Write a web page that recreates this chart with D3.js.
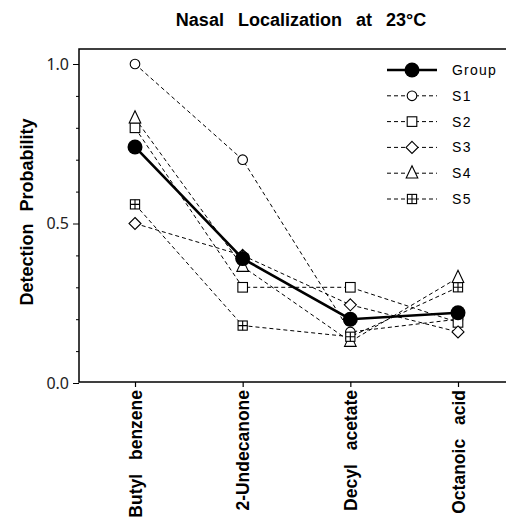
<!DOCTYPE html>
<html>
<head>
<meta charset="utf-8">
<script src="https://cdn.jsdelivr.net/npm/d3@7"></script>
<style>
  body { margin: 0; background: #fff; }
  svg { display: block; }
</style>
</head>
<body>
<div id="chart"></div>
<script>
// odorants along the x axis
const odorants = ["Butyl benzene", "2-Undecanone", "Decyl acetate", "Octanoic acid"]

// detection probability per subject, same order as odorants
const group = [0.74, 0.39, 0.20, 0.22]
const s1 = [1.0, 0.70, 0.16, 0.20]
const s2 = [0.80, 0.30, 0.30, 0.19]
const s3 = [0.50, 0.40, 0.245, 0.16]
const s4 = [0.83, 0.365, 0.13, 0.33]
const s5 = [0.56, 0.18, 0.145, 0.30]

const yTicks = [0.0, 0.5, 1.0]

const series = [
    {name: "S1", values: s1, symbol: "circle"},
    {name: "S2", values: s2, symbol: "square"},
    {name: "S3", values: s3, symbol: "diamond"},
    {name: "S4", values: s4, symbol: "triangle"},
    {name: "S5", values: s5, symbol: "crossbox"},
]

const width = 506, height = 527
const plot = {left: 79, right: 520, top: 49, bottom: 382}
const font = "'Liberation Sans', Arial, sans-serif"

const svg = d3.select("#chart").append("svg")
    .attr("width", width)
    .attr("height", height)

const x = d3.scalePoint()
    .domain(odorants)
    .range([135, 458])

const y = d3.scaleLinear()
    .domain([0, 1])
    .range([383, 64])

// frame
svg.append("rect")
    .attr("x", plot.left).attr("y", plot.top)
    .attr("width", plot.right - plot.left).attr("height", plot.bottom - plot.top)
    .attr("fill", "none").attr("stroke", "#000").attr("stroke-width", 1.5)

// y axis: major + minor ticks
const yAxis = svg.append("g")
    .attr("transform", `translate(${plot.left},0)`)
    .call(d3.axisLeft(y).tickValues(yTicks).tickFormat(d3.format(".1f")).tickSize(6).tickPadding(4))
yAxis.select(".domain").remove()
yAxis.selectAll("text")
    .attr("font-family", "'Noto Sans', sans-serif")
    .attr("font-size", 16)
    .attr("fill", "#222")
yAxis.selectAll("line").attr("stroke", "#000")

svg.append("g")
    .attr("transform", `translate(${plot.left},0)`)
    .call(d3.axisLeft(y).tickValues(d3.range(1, 10).filter(d => d !== 5).map(d => d / 10)).tickSize(3).tickFormat(""))
    .call(g => g.select(".domain").remove())

// x axis
const xAxis = svg.append("g")
    .attr("transform", `translate(0,${plot.bottom})`)
    .call(d3.axisBottom(x).tickSize(5).tickSizeOuter(0))
xAxis.select(".domain").remove()
xAxis.selectAll("line").attr("stroke", "#000").attr("stroke-width", 1.2)
xAxis.selectAll("text")
    .attr("transform", "rotate(-90)")
    .attr("text-anchor", "end")
    .attr("x", -8)
    .attr("y", 0)
    .attr("dy", "0.36em")
    .attr("font-family", font)
    .attr("font-weight", "bold")
    .attr("font-size", 17.5)
    .attr("word-spacing", 9)
    .attr("fill", "#000")

// titles
svg.append("text")
    .attr("x", 301).attr("y", 26)
    .attr("text-anchor", "middle")
    .attr("font-family", font)
    .attr("font-weight", "bold")
    .attr("font-size", 18)
    .attr("word-spacing", 9)
    .text("Nasal Localization at 23°C")

svg.append("text")
    .attr("transform", "translate(33,212) rotate(-90)")
    .attr("text-anchor", "middle")
    .attr("font-family", font)
    .attr("font-weight", "bold")
    .attr("font-size", 18)
    .attr("word-spacing", 7)
    .text("Detection Probability")

// marker drawing
const drawMarker = (g, symbol) => {
    const common = s => s.attr("fill", "#fff").attr("stroke", "#000").attr("stroke-width", 1.1)
    if (symbol === "circle") {
        g.append("circle").attr("r", 4.8).call(common)
    } else if (symbol === "square") {
        g.append("rect").attr("x", -4.8).attr("y", -4.8).attr("width", 9.6).attr("height", 9.6).call(common)
    } else if (symbol === "diamond") {
        g.append("path").attr("d", "M0,-6L6,0L0,6L-6,0Z").call(common)
    } else if (symbol === "triangle") {
        g.append("path").attr("d", "M0,-7.5L5.8,4.8L-5.8,4.8Z").call(common)
    } else if (symbol === "crossbox") {
        g.append("rect").attr("x", -4.6).attr("y", -4.6).attr("width", 9.2).attr("height", 9.2).call(common)
        g.append("path").attr("d", "M0,-4.6V4.6M-4.6,0H4.6").attr("stroke", "#000").attr("stroke-width", 1.1)
    }
}

const line = d3.line()
    .x((d, i) => x(odorants[i]))
    .y(d => y(d))

// subject lines
series.forEach(s => {
    svg.append("path")
        .attr("d", line(s.values))
        .attr("fill", "none")
        .attr("stroke", "#000")
        .attr("stroke-width", 1)
        .attr("stroke-dasharray", "4,3")
})

// group line
svg.append("path")
    .attr("d", line(group))
    .attr("fill", "none")
    .attr("stroke", "#000")
    .attr("stroke-width", 2.6)

// subject markers
series.forEach(s => {
    s.values.forEach((v, i) => {
        const g = svg.append("g").attr("transform", `translate(${x(odorants[i])},${y(v)})`)
        drawMarker(g, s.symbol)
    })
})

// group markers
svg.selectAll(".group-pt")
    .data(group)
    .enter()
    .append("circle")
    .attr("cx", (d, i) => x(odorants[i]))
    .attr("cy", d => y(d))
    .attr("r", 7.5)
    .attr("fill", "#000")

// legend
const legend = svg.append("g").attr("transform", "translate(387,70)")
const rowH = 25.8
const legendRows = [{name: "Group", symbol: "group"}, ...series]
legendRows.forEach((s, i) => {
    const g = legend.append("g").attr("transform", `translate(0,${i * rowH})`)
    if (s.symbol === "group") {
        g.append("line").attr("x1", 0).attr("x2", 50).attr("stroke", "#000").attr("stroke-width", 2.6)
        g.append("circle").attr("cx", 25).attr("r", 7.5).attr("fill", "#000")
    } else {
        g.append("line").attr("x1", 0).attr("x2", 50).attr("stroke", "#000").attr("stroke-width", 1).attr("stroke-dasharray", "4,3")
        drawMarker(g.append("g").attr("transform", "translate(25,0)"), s.symbol)
    }
    g.append("text")
        .attr("x", 65)
        .attr("dy", "0.35em")
        .attr("font-family", font)
        .attr("font-size", 14)
        .style("letter-spacing", s.symbol === "group" ? "1.2px" : "1.5px")
        .text(s.name)
})
</script>
</body>
</html>
